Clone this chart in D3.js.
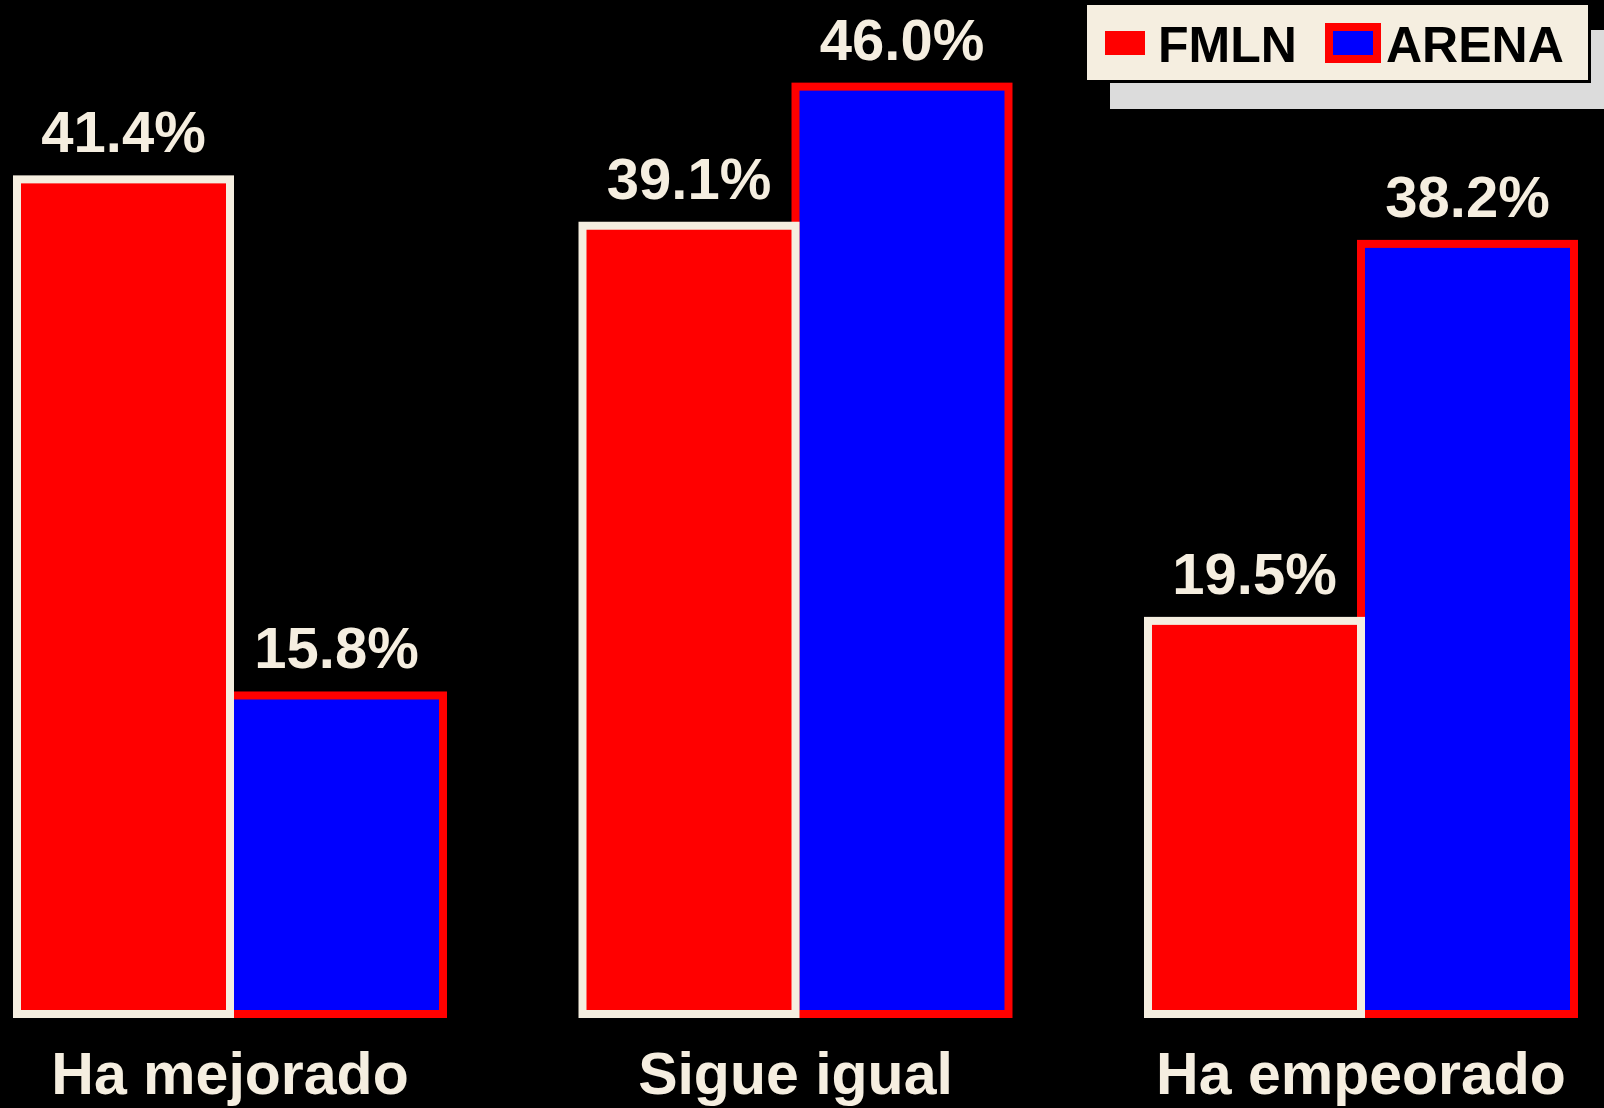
<!DOCTYPE html>
<html>
<head>
<meta charset="utf-8">
<script src="https://cdn.jsdelivr.net/npm/d3@7"></script>
<style>
  html, body { margin: 0; padding: 0; background: #000; }
  svg { display: block; }
</style>
</head>
<body>
<div class="forSvg"></div>
<script>
// data
const categories = ["Ha mejorado", "Sigue igual", "Ha empeorado"];
const seriesNames = ["FMLN", "ARENA"];
const fmlnValues = [41.4, 39.1, 19.5];
const arenaValues = [15.8, 46.0, 38.2];

// size of svg
const svg_w = 1604;
const svg_h = 1108;
const cream = "#f5eee0";

// fill & stroke for each series
const fills = { FMLN: "#ff0000", ARENA: "#0000ff" };
const strokes = { FMLN: cream, ARENA: "#ff0000" };
const strokeW = 8;

// rows for drawing
const rows = categories.map((c, i) => ({ cat: c, FMLN: fmlnValues[i], ARENA: arenaValues[i] }));

// scales
const xScale = d3.scaleBand()
                .domain(categories)
                .range([17, 1574])
                .paddingInner(0.2467)
                .paddingOuter(0);

const xInner = d3.scaleBand()
                .domain(seriesNames)
                .range([0, xScale.bandwidth()]);

const yScale = d3.scaleLinear()
                .domain([0, 50])
                .range([1014, 6]);

const svg = d3.select(".forSvg")
                .append("svg")
                .attr("width", svg_w)
                .attr("height", svg_h)
                .style("background", "#000");

const groups = svg.selectAll("g.grp")
    .data(rows)
    .enter()
    .append("g")
    .attr("class", "grp")
    .attr("transform", d => "translate(" + xScale(d.cat) + ",0)");

// ARENA first so the FMLN border sits on top where they touch
["ARENA", "FMLN"].forEach(s => {
    groups.append("rect")
        .attr("x", xInner(s))
        .attr("y", d => yScale(d[s]))
        .attr("width", xInner.bandwidth())
        .attr("height", d => yScale(0) - yScale(d[s]))
        .attr("fill", fills[s])
        .attr("stroke", strokes[s])
        .attr("stroke-width", strokeW);
});

// value labels
const fmt = d3.format(".1f");
seriesNames.forEach(s => {
    groups.append("text")
        .attr("x", xInner(s) + xInner.bandwidth() / 2)
        .attr("y", d => yScale(d[s]) - 27)
        .attr("text-anchor", "middle")
        .attr("font-family", "Liberation Sans, Arial, sans-serif")
        .attr("font-weight", "bold")
        .attr("font-size", 58)
        .attr("fill", cream)
        .text(d => fmt(d[s]) + "%");
});

// category labels (kept a little up so descenders stay inside)
groups.append("text")
    .attr("x", xScale.bandwidth() / 2)
    .attr("y", 1094)
    .attr("text-anchor", "middle")
    .attr("font-family", "Liberation Sans, Arial, sans-serif")
    .attr("font-weight", "bold")
    .attr("font-size", 59)
    .attr("fill", cream)
    .text(d => d.cat);

// legend (shadow, box, swatches)
const legend = svg.append("g").attr("id", "legend");
legend.append("rect")
    .attr("x", 1110).attr("y", 30)
    .attr("width", 510).attr("height", 79)
    .attr("fill", "#dcdcdc");
legend.append("rect")
    .attr("x", 1085.5).attr("y", 3.5)
    .attr("width", 504).attr("height", 78)
    .attr("fill", cream)
    .attr("stroke", "#000")
    .attr("stroke-width", 3);

const legendX = { FMLN: 1101, ARENA: 1329 };
seriesNames.forEach(s => {
    legend.append("rect")
        .attr("x", legendX[s]).attr("y", 27)
        .attr("width", 48).attr("height", 32)
        .attr("fill", fills[s])
        .attr("stroke", strokes[s])
        .attr("stroke-width", strokeW);
    legend.append("text")
        .attr("x", legendX[s] + 57)
        .attr("y", 62)
        .attr("font-family", "Liberation Sans, Arial, sans-serif")
        .attr("font-weight", "bold")
        .attr("font-size", 50)
        .attr("fill", "#000")
        .text(s);
});
</script>
</body>
</html>
